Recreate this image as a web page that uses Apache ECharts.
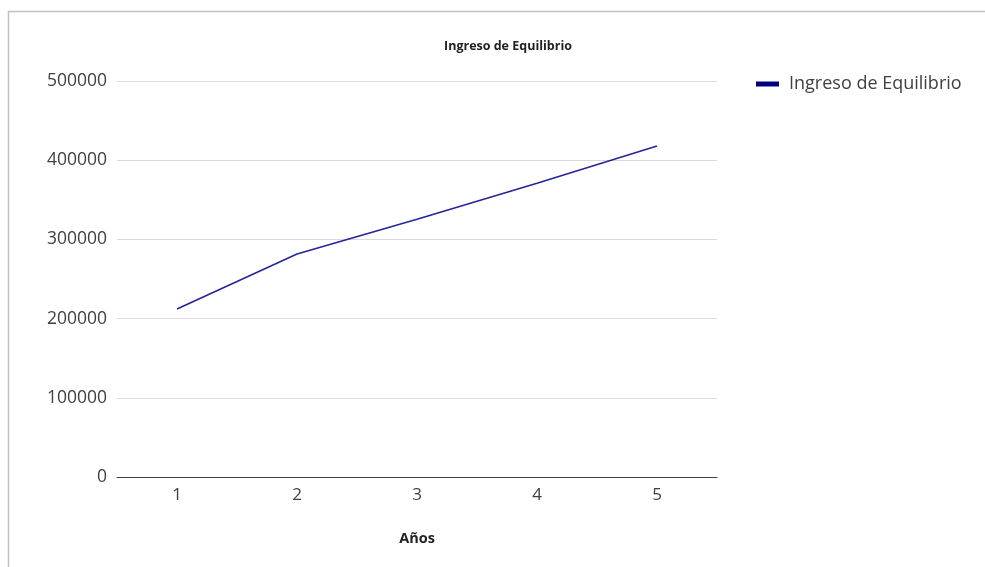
<!DOCTYPE html>
<html>
<head>
<meta charset="utf-8">
<script src="https://cdn.jsdelivr.net/npm/echarts@6/dist/echarts.min.js"></script>
<style>
  html, body { margin: 0; padding: 0; background: #fff; }
  #chart { width: 985px; height: 567px; }
</style>
</head>
<body>
<div id="chart"></div>
<script>
// Equilibrium income by year
const years = ['1', '2', '3', '4', '5'];
const ingresoEquilibrio = [212000, 281500, 325500, 371000, 418000];
const seriesName = 'Ingreso de Equilibrio';
const chartTitle = 'Ingreso de Equilibrio';
const xAxisName = 'Años';

const chart = echarts.init(document.getElementById('chart'));
chart.setOption({
  animation: false,
  backgroundColor: '#ffffff',
  graphic: [
    {
      type: 'polyline',
      shape: { points: [[8.5, 567], [8.5, 11.5], [985, 11.5]] },
      style: { stroke: '#c0c0c0', lineWidth: 1.5, fill: null },
      silent: true
    }
  ],
  title: {
    text: chartTitle,
    left: 503,
    top: 35,
    textAlign: 'center',
    textStyle: { fontFamily: 'Open Sans', fontSize: 12.5, fontWeight: 'bold', color: '#222' }
  },
  legend: {
    data: [seriesName],
    left: 751,
    top: 70,
    itemWidth: 23,
    itemHeight: 5,
    itemGap: 10,
    icon: 'rect',
    textStyle: { fontFamily: 'Open Sans', fontSize: 18, color: '#404040', padding: [0, 0, 0, 5] }
  },
  grid: { left: 117, right: 268, top: 81, bottom: 90, containLabel: false },
  xAxis: {
    type: 'category',
    data: years,
    boundaryGap: true,
    name: xAxisName,
    nameLocation: 'middle',
    nameGap: 54,
    nameTextStyle: { fontFamily: 'Open Sans', fontSize: 14.5, fontWeight: 'bold', color: '#222' },
    axisLine: { lineStyle: { color: '#404040', width: 1.2 } },
    axisTick: { show: false },
    axisLabel: { fontFamily: 'Open Sans', fontSize: 17, color: '#404040', margin: 10 }
  },
  yAxis: {
    type: 'value',
    min: 0,
    max: 500000,
    interval: 100000,
    axisLine: { show: false },
    axisTick: { show: false },
    axisLabel: {
      fontFamily: 'Open Sans',
      fontSize: 17.5,
      color: '#404040',
      margin: 10,
      formatter: (v) => String(v)
    },
    splitLine: { lineStyle: { color: '#d9d9d9', width: 1.2 } }
  },
  series: [
    {
      name: seriesName,
      type: 'line',
      data: ingresoEquilibrio,
      symbol: 'none',
      color: '#000080',
      lineStyle: { color: '#25259a', width: 1.6 }
    }
  ]
});
</script>
</body>
</html>
